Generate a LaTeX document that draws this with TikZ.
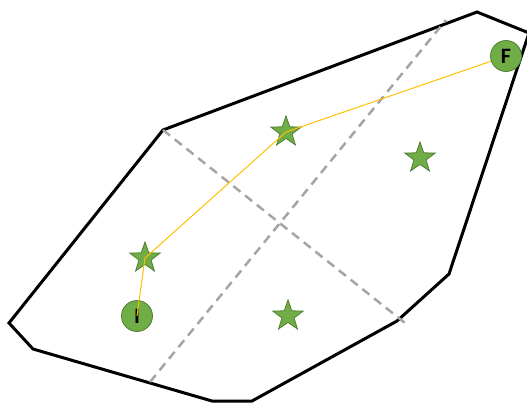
\documentclass[tikz,border=0pt]{standalone}
\usepackage{fontspec}
\setmainfont{Carlito}
\usetikzlibrary{shapes.geometric}
\definecolor{leaf}{HTML}{70AD47}
\definecolor{leafdark}{HTML}{507E32}
\definecolor{route}{HTML}{FFC000}
\definecolor{cut}{HTML}{A5A5A5}
\begin{document}
\begin{tikzpicture}[x=1pt,y=-1pt,
  goal/.style={star,star points=5,star point ratio=2.5,minimum size=32pt,inner sep=0pt,
    fill=leaf,draw=leafdark,line width=0.8pt},
  endpt/.style={circle,minimum size=31pt,inner sep=0pt,fill=leaf,draw=leafdark,
    line width=0.8pt,font=\bfseries\fontsize{22}{22}\selectfont}]
  \useasboundingbox (0,0) rectangle (527,402);
  % obrys oblasti
  \draw[line width=3pt,line join=miter] (477,12) -- (529,33) -- (449,274) -- (397,321)
    -- (252,401) -- (212,401) -- (33,349) -- (9,323) -- (163,130) -- cycle;
  % deleni na ctyri casti
  \coordinate (a1) at (163,130); \coordinate (a2) at (405,323);
  \coordinate (b1) at (150,382); \coordinate (b2) at (446,20);
  \draw[cut,line width=2.5pt,dash pattern=on 9pt off 6pt] (a1) -- (a2);
  \draw[cut,line width=2.5pt,dash pattern=on 9pt off 6pt] (b1) -- (b2);
  % cile
  \node[goal] (s1) at (145,258) {};
  \node[goal] (s2) at (286,132) {};
  \node[goal] (s3) at (420,158) {};
  \node[goal] (s4) at (288,316) {};
  \node[endpt] (I) at (137,316) {I};
  % trasa
  \coordinate (Fc) at (506,56);
  \draw[route,line width=1pt] (I.center) -- (s1.center) -- (s2.center) -- (Fc);
  \node[endpt] (F) at (Fc) {F};
\end{tikzpicture}
\end{document}
